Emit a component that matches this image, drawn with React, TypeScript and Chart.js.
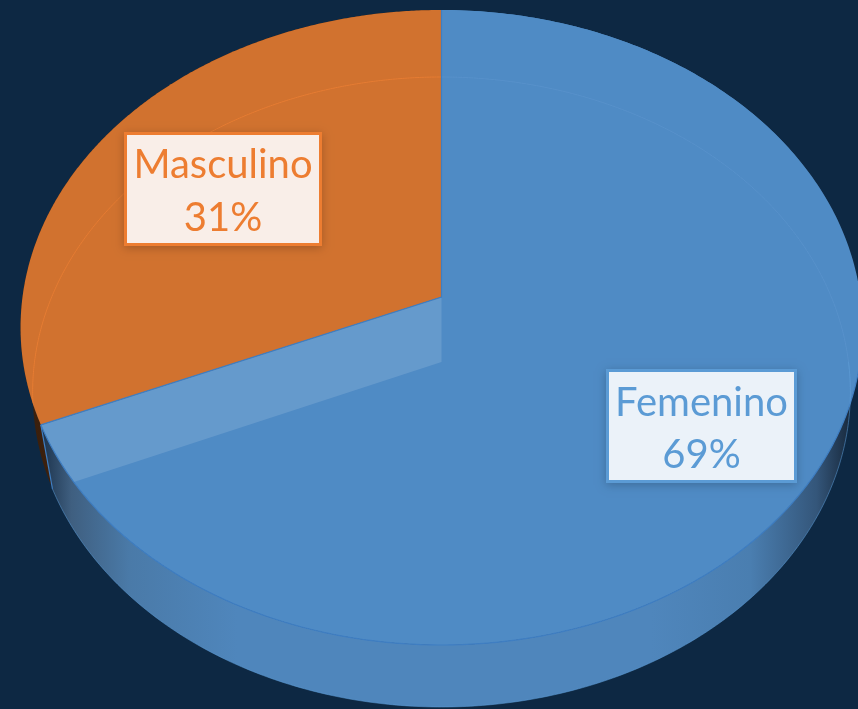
import React, { useEffect, useRef } from "react";
import { Chart, registerables } from "chart.js";

Chart.register(...registerables);

const categories = ["Femenino", "Masculino"];
const shares = [68.6, 31.4];

const BG = "#0D2843";
const sliceColors = ["#4F8BC5", "#D1722F"];
const seamColors = ["#3F7EC2", "#D1722F"];
const faintColors = ["rgba(105,160,215,0.3)", "rgba(238,128,52,0.7)"];
const labelInk = ["#5B9BD5", "#ED7D31"];
const labelFill = ["#EBF2F9", "#F9EEE8"];
const labelBoxes = [
  { x: 606, y: 369, w: 191, h: 114, lines: [403, 455] },
  { x: 124, y: 132, w: 198, h: 114, lines: [165, 218] },
];
const wallStops = [
  [
    [0, "#0F2238"], [0.05, "#3F5F80"], [0.12, "#4A7AA8"], [0.25, "#4F86BC"],
    [0.75, "#4F86BC"], [0.87, "#4A7EB0"], [0.95, "#34567A"], [1, "#121F2F"],
  ],
  [[0, "#3A1F0C"], [1, "#7A4418"]],
];

type View = { cx: number; a: number; apex: number; top: number; bottom: number };
const upper: View = { cx: 441.5, a: 419, apex: 297, top: 10, bottom: 645 };
const lower: View = { cx: 441.5, a: 407, apex: 362, top: 77, bottom: 707 };

function project(v: View, angle: number): [number, number] {
  const k = (2 * v.apex - v.top - v.bottom) / (v.bottom - v.top);
  const b = v.bottom * (1 + k) - v.apex;
  const ux = Math.cos(angle);
  const uy = Math.sin(angle);
  const d = 1 + k * uy;
  return [v.cx + (v.a * ux) / d, (v.apex + b * uy) / d];
}

function rim(ctx: CanvasRenderingContext2D, v: View, a0: number, a1: number, start: boolean) {
  const steps = 300;
  for (let i = 0; i <= steps; i++) {
    const p = project(v, a0 + ((a1 - a0) * i) / steps);
    if (i === 0 && start) ctx.moveTo(p[0], p[1]);
    else ctx.lineTo(p[0], p[1]);
  }
}

const piePlugin = {
  id: "tiltedPie",
  afterDatasetsDraw(chart: Chart) {
    const ctx = chart.ctx;
    const arcs = chart.getDatasetMeta(0).data as any[];
    ctx.save();
    ctx.fillStyle = BG;
    ctx.fillRect(0, 0, chart.width, chart.height);

    // Outer walls, between the upper and lower rims
    arcs.forEach((arc, i) => {
      const g = ctx.createLinearGradient(30, 0, 858, 0);
      wallStops[i].forEach((s) => g.addColorStop(s[0] as number, s[1] as string));
      ctx.beginPath();
      rim(ctx, upper, arc.startAngle, arc.endAngle, true);
      rim(ctx, lower, arc.endAngle, arc.startAngle, false);
      ctx.closePath();
      ctx.fillStyle = g;
      ctx.fill();
    });

    // Top face
    arcs.forEach((arc, i) => {
      ctx.beginPath();
      ctx.moveTo(upper.cx, upper.apex);
      rim(ctx, upper, arc.startAngle, arc.endAngle, false);
      ctx.closePath();
      ctx.fillStyle = sliceColors[i];
      ctx.fill();
    });

    // Inner wall of the cut seen through the translucent top
    const cut = arcs[1].startAngle;
    const up = project(upper, cut);
    const lo = project(lower, cut);
    ctx.save();
    ctx.beginPath();
    rim(ctx, upper, 0, Math.PI * 2, true);
    ctx.closePath();
    ctx.clip();
    ctx.beginPath();
    ctx.moveTo(upper.cx, upper.apex);
    ctx.lineTo(lower.cx, lower.apex);
    ctx.lineTo(lo[0], lo[1]);
    ctx.lineTo(up[0], up[1]);
    ctx.closePath();
    ctx.fillStyle = "rgba(255,255,255,0.13)";
    ctx.fill();

    // Faint far rim seen through the top
    arcs.forEach((arc, i) => {
      ctx.beginPath();
      rim(ctx, lower, arc.startAngle, arc.endAngle, true);
      ctx.strokeStyle = faintColors[i];
      ctx.lineWidth = 1;
      ctx.stroke();
    });
    ctx.restore();

    // Seams
    ctx.lineWidth = 1.2;
    ctx.strokeStyle = seamColors[0];
    ctx.beginPath();
    ctx.moveTo(up[0], up[1]);
    ctx.lineTo(upper.cx, upper.apex);
    const topPt = project(upper, arcs[0].startAngle);
    ctx.lineTo(topPt[0], topPt[1]);
    ctx.stroke();
    ctx.beginPath();
    ctx.moveTo(up[0], up[1]);
    ctx.lineTo(lo[0], lo[1]);
    ctx.stroke();
    ctx.beginPath();
    rim(ctx, upper, 0, arcs[0].endAngle, true);
    ctx.stroke();
    ctx.beginPath();
    rim(ctx, lower, 0, arcs[0].endAngle, true);
    ctx.strokeStyle = "rgba(91,155,213,0.55)";
    ctx.lineWidth = 1;
    ctx.stroke();

    // Data labels
    categories.forEach((name, i) => {
      const box = labelBoxes[i];
      ctx.save();
      ctx.shadowColor = "rgba(0,0,0,0.22)";
      ctx.shadowBlur = 9;
      ctx.shadowOffsetY = 2;
      ctx.fillStyle = labelInk[i];
      ctx.fillRect(box.x, box.y, box.w, box.h);
      ctx.restore();
      ctx.fillStyle = labelFill[i];
      ctx.fillRect(box.x + 3, box.y + 3, box.w - 6, box.h - 6);
      ctx.fillStyle = labelInk[i];
      ctx.font = '40px Lato, "Open Sans", sans-serif';
      ctx.textAlign = "center";
      ctx.textBaseline = "middle";
      const mid = box.x + box.w / 2;
      ctx.fillText(name, mid, box.lines[0]);
      ctx.fillText(`${Math.round(shares[i])}%`, mid, box.lines[1]);
    });
    ctx.restore();
  },
};

export default function App() {
  const ref = useRef<HTMLCanvasElement>(null);
  useEffect(() => {
    document.body.style.margin = "0";
    document.body.style.background = BG;
    const chart = new Chart(ref.current!, {
      type: "pie",
      data: {
        labels: categories,
        datasets: [{ data: shares, backgroundColor: "rgba(0,0,0,0)", borderWidth: 0 }],
      },
      options: {
        responsive: false,
        animation: false,
        plugins: { legend: { display: false }, tooltip: { enabled: false } },
      },
      plugins: [piePlugin],
    } as any);
    return () => chart.destroy();
  }, []);
  return <canvas ref={ref} width={858} height={709} style={{ display: "block" }} />;
}
